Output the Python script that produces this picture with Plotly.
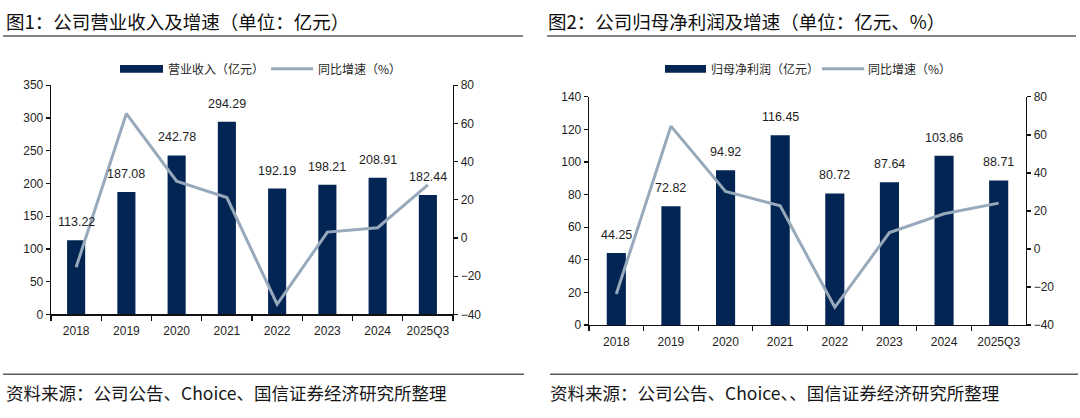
import plotly.graph_objects as go

# ---------------- data ----------------
categories = ["2018", "2019", "2020", "2021", "2022", "2023", "2024", "2025Q3"]
revenue = [113.22, 187.08, 242.78, 294.29, 192.19, 198.21, 208.91, 182.44]
revenue_growth = [-15.3, 65.2, 29.8, 21.2, -34.7, 3.1, 5.4, 27.8]
profit = [44.25, 72.82, 94.92, 116.45, 80.72, 87.64, 103.86, 88.71]
profit_growth = [-23.7, 64.6, 30.3, 22.7, -30.7, 8.6, 18.5, 24.1]

rev_ticks = [0, 50, 100, 150, 200, 250, 300, 350]
profit_ticks = [0, 20, 40, 60, 80, 100, 120, 140]
growth_ticks = [-40, -20, 0, 20, 40, 60, 80]

title1 = "图1：公司营业收入及增速（单位：亿元）"
title2 = "图2：公司归母净利润及增速（单位：亿元、%）"
legend_bar1 = "营业收入（亿元）"
legend_bar2 = "归母净利润（亿元）"
legend_line1 = "同比增速（%）"
legend_line2 = "同比增速（%）"
source1 = "资料来源：公司公告、Choice、国信证券经济研究所整理"
source2 = "资料来源：公司公告、Choice、、国信证券经济研究所整理"

# ---------------- style ----------------
W, H = 1080, 418
BAR = "#022553"
LINE = "#97a9ba"
AX = "#111111"
TXT = "#1e1e1e"
CJK = "Noto Sans CJK SC"
NUM = "Liberation Sans, Arial, sans-serif"


def fx(p):
    return p / W


def fy(p):
    return 1 - p / H


fig = go.Figure()

# chart 1
fig.add_trace(go.Bar(x=categories, y=revenue, marker=dict(color=BAR, line=dict(width=0)),
                     width=0.36, xaxis="x", yaxis="y", hoverinfo="skip"))
fig.add_trace(go.Scatter(x=categories, y=revenue_growth, mode="lines",
                         line=dict(color=LINE, width=3), xaxis="x", yaxis="y2", hoverinfo="skip"))
# chart 2
fig.add_trace(go.Bar(x=categories, y=profit, marker=dict(color=BAR, line=dict(width=0)),
                     width=0.35, xaxis="x2", yaxis="y3", hoverinfo="skip"))
fig.add_trace(go.Scatter(x=categories, y=profit_growth, mode="lines",
                         line=dict(color=LINE, width=3), xaxis="x2", yaxis="y4", hoverinfo="skip"))

tickfont = dict(family=NUM, size=12, color=TXT)
common_x = dict(type="category", range=[-0.5, 7.5], tickson="boundaries", ticks="outside",
                ticklen=5, tickwidth=1.2, tickcolor=AX, showline=True, linecolor=AX, linewidth=1.3,
                showgrid=False, zeroline=False, tickfont=tickfont, tickangle=0,
                ticklabelstandoff=5, fixedrange=True)
common_y = dict(ticks="outside", ticklen=4, tickwidth=1.2, tickcolor=AX, showline=True,
                linecolor=AX, linewidth=1.3, showgrid=False, zeroline=False,
                tickfont=tickfont, fixedrange=True)

fig.update_layout(
    width=W, height=H, margin=dict(l=0, r=0, t=0, b=0),
    paper_bgcolor="white", plot_bgcolor="white", showlegend=False, hovermode=False,
    xaxis=dict(domain=[fx(51), fx(453)], anchor="y", **common_x),
    yaxis=dict(domain=[fy(318), fy(81)], anchor="x", range=[0, 350], tickvals=rev_ticks, **common_y),
    yaxis2=dict(overlaying="y", side="right", anchor="x", range=[-40, 80], tickvals=growth_ticks, **common_y),
    xaxis2=dict(domain=[fx(589), fx(1026)], anchor="y3", **common_x),
    yaxis3=dict(domain=[fy(329), fy(93)], anchor="x2", range=[0, 140], tickvals=profit_ticks, **common_y),
    yaxis4=dict(overlaying="y3", side="right", anchor="x2", range=[-40, 80], tickvals=growth_ticks, **common_y),
)

annotations = []
# data labels (category index positions)
for i, v in enumerate(revenue):
    annotations.append(dict(x=i, y=v, xref="x", yref="y", text=f"{v:.2f}", showarrow=False,
                            yshift=18, font=dict(family=NUM, size=12.5, color=TXT)))
for i, v in enumerate(profit):
    annotations.append(dict(x=i, y=v, xref="x2", yref="y3", text=f"{v:.2f}", showarrow=False,
                            yshift=18, font=dict(family=NUM, size=12.5, color=TXT)))

def txt(x, y, s, size, color=TXT):
    annotations.append(dict(x=fx(x), y=fy(y), xref="paper", yref="paper", text=s, showarrow=False,
                            xanchor="left", yanchor="middle",
                            font=dict(family=CJK, size=size, color=color)))

txt(4, 14, title1, 18.5, "#0e0e0e")
txt(546, 14, title2, 18.5, "#0e0e0e")
txt(166, 64, legend_bar1, 12)
txt(316, 64, legend_line1, 12)
txt(709, 64, legend_bar2, 12)
txt(866, 64, legend_line2, 12)
txt(4, 399, source1, 17.5, "#161616")
txt(548, 399, source2, 17.5, "#161616")

shapes = []
def hline(x0, x1, y, color, width):
    shapes.append(dict(type="line", xref="paper", yref="paper", x0=fx(x0), x1=fx(x1),
                       y0=fy(y), y1=fy(y), line=dict(color=color, width=width)))

def rect(x0, x1, y0, y1, color):
    shapes.append(dict(type="rect", xref="paper", yref="paper", x0=fx(x0), x1=fx(x1),
                       y0=fy(y1), y1=fy(y0), fillcolor=color, line=dict(width=0)))

hline(3, 523, 30, "#5a5a5a", 1.6)
hline(547, 1076, 30, "#5a5a5a", 1.6)
hline(3, 524, 380, "#5a5a5a", 1.6)
hline(550, 1078, 380, "#5a5a5a", 1.6)
rect(120, 163, 60, 68, BAR)
hline(271, 313, 64, LINE, 3)
rect(665, 706, 60, 68, BAR)
hline(822, 864, 64, LINE, 3)

fig.update_layout(annotations=annotations, shapes=shapes)

post = ("document.documentElement.style.margin='0';document.body.style.margin='0';"
        "document.body.style.padding='0';document.documentElement.style.overflow='hidden';"
        "var d=document.getElementById('{plot_id}');d.style.position='fixed';"
        "d.style.left='0px';d.style.top='0px';")

fig.write_html("out.html", config={"displayModeBar": False, "staticPlot": True},
               post_script=post)
